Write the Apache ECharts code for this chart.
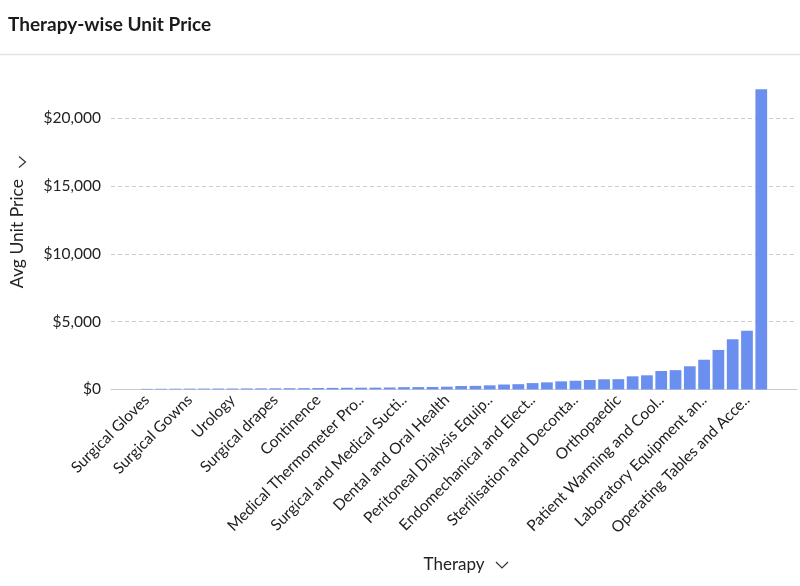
<!DOCTYPE html>
<html>
<head>
<meta charset="utf-8">
<script src="https://cdn.jsdelivr.net/npm/echarts@6/dist/echarts.min.js"></script>
<style>
  html, body { margin: 0; padding: 0; background: #fff; }
  #chart { width: 800px; height: 586px; }
</style>
</head>
<body>
<div id="chart"></div>
<script>
// ---- data ----
var categories = [
  'Surgical Gloves', 'Syringes and Needles', 'Bandages',
  'Surgical Gowns', 'Face Masks', 'Catheters',
  'Urology', 'Wound Care', 'Sutures',
  'Surgical drapes', 'Infusion Therapy', 'Respiratory Care',
  'Continence', 'Ostomy', 'Enteral Feeding',
  'Medical Thermometer Pro..', 'Blood Pressure Monitoring', 'Diagnostic Instruments',
  'Surgical and Medical Sucti..', 'Ophthalmology', 'ENT Instruments',
  'Dental and Oral Health', 'Orthotics', 'Mobility Aids',
  'Peritoneal Dialysis Equip..', 'Haemodialysis', 'Electrosurgery',
  'Endomechanical and Elect..', 'Anaesthesia', 'Patient Monitoring',
  'Sterilisation and Deconta..', 'Physiotherapy', 'Cardiology',
  'Orthopaedic', 'Endoscopy', 'Imaging',
  'Patient Warming and Cool..', 'Ventilation', 'Defibrillators',
  'Laboratory Equipment an..', 'Hospital Beds', 'Infusion Pumps',
  'Operating Tables and Acce..', 'Medical Imaging Systems'
];
var avgUnitPrice = [
  40, 45, 50, 55, 60, 62, 65, 70, 75, 80,
  85, 90, 100, 110, 120, 125, 130, 140, 165, 170,
  180, 200, 250, 260, 300, 360, 385, 465, 520, 595,
  640, 695, 745, 755, 965, 1040, 1360, 1420, 1705, 2190,
  2910, 3700, 4330, 22150
];
var yTicks = { min: 0, max: 23000, interval: 5000 };
var labelStep = 3;

// ---- build ----
var PAD = 2;
var padCats = [], padVals = [];
for (var i = 0; i < PAD; i++) { padCats.push(' '.repeat(i + 1)); padVals.push('-'); }
categories.forEach(function (c, i) { padCats.push(c); padVals.push(avgUnitPrice[i]); });
for (var j = 0; j < PAD; j++) { padCats.push(' '.repeat(PAD + j + 1)); padVals.push('-'); }

var FONT = 'Lato, "Noto Sans", sans-serif';
var chart = echarts.init(document.getElementById('chart'));
chart.setOption({
  animation: false,
  title: {
    text: 'Therapy-wise Unit Price',
    left: 3, top: 10,
    textStyle: { fontFamily: FONT, fontSize: 19, fontWeight: 'bold', color: '#1a1a1a' }
  },
  grid: { left: 110, right: 3, top: 77.7, bottom: 196.6, containLabel: false },
  xAxis: {
    type: 'category',
    data: padCats,
    name: 'Therapy',
    nameLocation: 'middle',
    nameGap: 167,
    nameTextStyle: { fontFamily: FONT, fontSize: 17, color: '#222' },
    axisLine: { lineStyle: { color: '#cccccc', width: 1 } },
    axisTick: { show: false },
    axisLabel: {
      rotate: 45,
      fontFamily: FONT, fontSize: 15.5, color: '#222',
      margin: 8,
      interval: function (idx) {
        var k = idx - PAD;
        return k >= 0 && k < categories.length && k % labelStep === 0;
      }
    }
  },
  yAxis: {
    type: 'value',
    min: yTicks.min, max: yTicks.max, interval: yTicks.interval,
    name: 'Avg Unit Price',
    nameLocation: 'middle',
    nameRotate: 90,
    nameGap: 85,
    nameTextStyle: { fontFamily: FONT, fontSize: 17.5, color: '#222' },
    axisLine: { show: false },
    axisTick: { show: false },
    axisLabel: {
      fontFamily: FONT, fontSize: 15.5, color: '#222', margin: 10,
      showMaxLabel: false,
      formatter: function (v) { return '$' + v.toLocaleString('en-US'); }
    },
    splitLine: {
      lineStyle: {
        color: ['#cccccc', '#cccccc', '#cccccc', '#cccccc', '#cccccc', 'rgba(0,0,0,0)'],
        type: [4, 3], width: 1
      }
    }
  },
  series: [{
    type: 'bar',
    data: padVals,
    barCategoryGap: '18%',
    itemStyle: { color: '#6b8fef' }
  }],
  graphic: [
    { type: 'line', shape: { x1: 0, y1: 54.5, x2: 800, y2: 54.5 },
      style: { stroke: '#e3e3e3', lineWidth: 1.5 }, z: 100 },
    { type: 'polyline', shape: { points: [[19, 156.5], [25.5, 162], [19, 167.5]] },
      style: { stroke: '#333', lineWidth: 1.2, fill: null }, z: 100 },
    { type: 'polyline', shape: { points: [[496, 562], [502, 568], [508, 562]] },
      style: { stroke: '#333', lineWidth: 1.2, fill: null }, z: 100 }
  ]
});
</script>
</body>
</html>
